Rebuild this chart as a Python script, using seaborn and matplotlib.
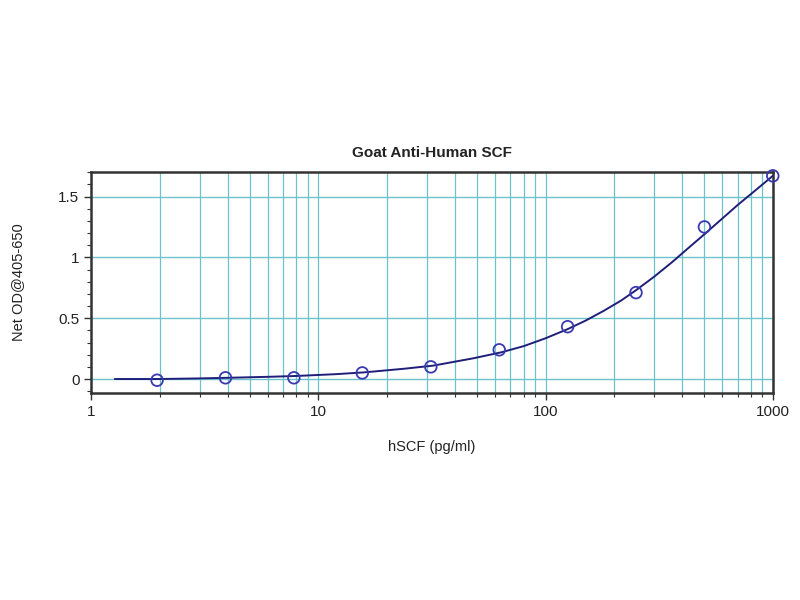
import matplotlib
matplotlib.use("Agg")
import matplotlib.pyplot as plt
import matplotlib.ticker as mticker
import seaborn as sns
import pandas as pd

# data points
conc = [1.95, 3.9, 7.8, 15.6, 31.25, 62.5, 125, 250, 500, 1000]
od = [-0.01, 0.01, 0.01, 0.05, 0.10, 0.24, 0.43, 0.71, 1.25, 1.67]

# fitted curve
curve_x = [1.27, 2, 3, 4, 6, 8, 12, 16, 24, 32, 48, 64, 80, 100, 125, 150, 180, 215, 250, 300,
           360, 430, 500, 600, 700, 850, 1000]
curve_y = [0.0, 0.0, 0.005, 0.01, 0.018, 0.025, 0.04, 0.055, 0.085, 0.11, 0.17, 0.22, 0.27, 0.335,
           0.41, 0.48, 0.56, 0.645, 0.73, 0.84, 0.96, 1.085, 1.19, 1.32, 1.43, 1.56, 1.67]

title = "Goat Anti-Human SCF"
xlabel = "hSCF (pg/ml)"
ylabel = "Net OD@405-650"
xticks = [1, 10, 100, 1000]
yticks = [0, 0.5, 1, 1.5]

sns.set_theme(style="white")
plt.rcParams['font.family'] = ['Liberation Sans', 'DejaVu Sans']

fig = plt.figure(figsize=(8, 6), dpi=100)
ax = fig.add_axes([0.114, 0.345, 0.852, 0.368])

pts = pd.DataFrame({"x": conc, "y": od})
cur = pd.DataFrame({"x": curve_x, "y": curve_y})

ax.set_xscale("log")
ax.set_xlim(1, 1000)
ax.set_ylim(-0.115, 1.70)

grid_c = "#6cc3cc"
ax.xaxis.set_major_locator(mticker.FixedLocator(xticks))
ax.xaxis.set_minor_locator(mticker.LogLocator(base=10, subs=range(2, 10)))
ax.xaxis.set_major_formatter(mticker.FuncFormatter(lambda v, p: f"{v:g}"))
ax.xaxis.set_minor_formatter(mticker.NullFormatter())
ax.yaxis.set_major_locator(mticker.FixedLocator(yticks))
ax.yaxis.set_minor_locator(mticker.MultipleLocator(0.1))
ax.yaxis.set_major_formatter(mticker.FuncFormatter(lambda v, p: f"{v:g}"))
ax.grid(True, which="both", axis="x", color=grid_c, lw=0.9)
ax.grid(True, which="major", axis="y", color=grid_c, lw=1.0)
ax.set_axisbelow(True)

sns.lineplot(data=cur, x="x", y="y", ax=ax, color="#1f1f7a", lw=1.4, zorder=3)
sns.scatterplot(data=pts, x="x", y="y", ax=ax, s=70, facecolor="none",
                edgecolor="#3a3ab0", linewidth=1.3, zorder=4, clip_on=False)

for s in ax.spines.values():
    s.set_color("#333333")
    s.set_linewidth(1.8)

ax.tick_params(axis="both", which="major", direction="out", length=5, width=1,
               color="#333333", labelsize=11, labelcolor="#222222", bottom=True, left=True)
ax.tick_params(axis="both", which="minor", direction="out", length=3, width=0.8,
               color="#333333", bottom=True, left=True)
ax.tick_params(axis="x", which="major", pad=4)

ax.set_title(title, fontsize=11, fontweight="bold", color="#222222", pad=11)
ax.set_xlabel(xlabel, fontsize=10.5, color="#222222", labelpad=15)
ax.set_ylabel(ylabel, fontsize=10.5, color="#222222", labelpad=24)

fig.savefig("out.png", dpi=100, facecolor="white")
